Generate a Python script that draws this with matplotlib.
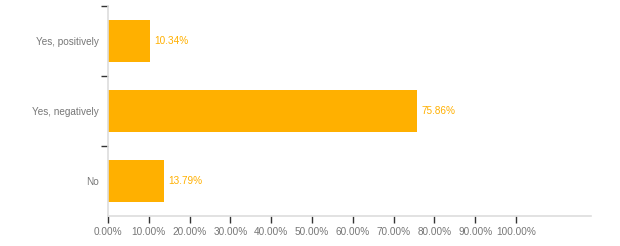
import numpy as np
import matplotlib.pyplot as plt
from matplotlib.ticker import FixedLocator

plt.rcParams['font.family'] = ['Liberation Sans', 'DejaVu Sans']

# DATA
categories = ["Yes, positively", "Yes, negatively", "No"]
values = [10.34, 75.86, 13.79]
xticks = [0, 10, 20, 30, 40, 50, 60, 70, 80, 90, 100]

BAR = "#FFB000"
GRAY = "#777777"

fig = plt.figure(figsize=(6.2, 2.46), dpi=100)
ax = fig.add_axes([108/620, 30/246, 483/620, 210/246])

pos = np.arange(len(categories))
ax.barh(pos, values, height=0.6, color=BAR)
for p, v in zip(pos, values):
    ax.text(v + 1.0, p, "%.2f%%" % v, va="center", ha="left",
            fontsize=7.2, color=BAR)

ax.set_ylim(len(categories) - 0.5, -0.5)
ax.set_xlim(0, 118.4)

ax.set_yticks(pos)
ax.set_yticklabels(categories)
# separators between bands (no tick at the bottom edge)
ax.yaxis.set_minor_locator(FixedLocator(np.arange(-0.5, len(categories) - 1, 1.0)))
ax.tick_params(axis="y", which="major", length=0, pad=6.5, labelsize=7.2, labelcolor=GRAY)
ax.tick_params(axis="y", which="minor", length=5, width=1, color="#333333")

ax.set_xticks(xticks)
ax.set_xticklabels(["%.2f%%" % t for t in xticks])
ax.tick_params(axis="x", length=5, width=1, color="#333333", pad=3,
               labelsize=7.2, labelcolor=GRAY)

for s in ["top", "right"]:
    ax.spines[s].set_visible(False)
for s in ["left", "bottom"]:
    ax.spines[s].set_color("#dddddd")
    ax.spines[s].set_linewidth(1.2)

fig.savefig("out.png", dpi=100)
